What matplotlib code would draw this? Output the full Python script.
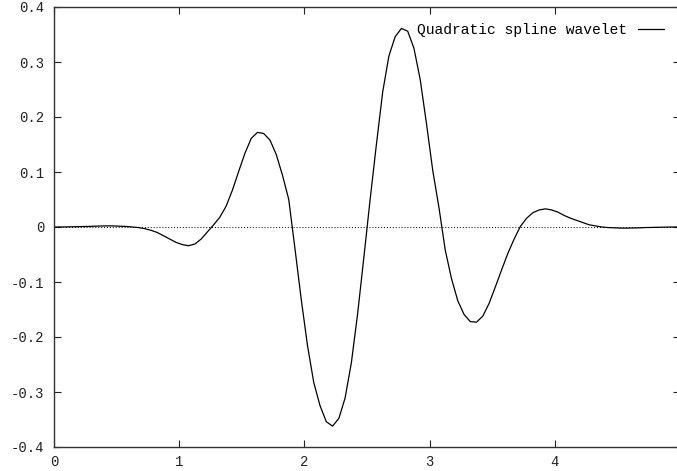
import numpy as np
import matplotlib
matplotlib.use('Agg')
import matplotlib.pyplot as plt

# Dados (amostras a cada 0.05, deslocadas de 0.025)
x_esq = np.arange(0.025, 2.5, 0.05)
psi_esq = [0.0, 0.0001, 0.0003, 0.0005, 0.0008, 0.001, 0.0015, 0.0018, 0.002, 0.002,
           0.0015, 0.001, 0.0, -0.001, -0.003, -0.006, -0.010, -0.016, -0.022, -0.028,
           -0.032, -0.034, -0.031, -0.022, -0.009, 0.004, 0.018, 0.038, 0.067, 0.101,
           0.134, 0.161, 0.172, 0.170, 0.158, 0.132, 0.094, 0.050, -0.040, -0.132,
           -0.216, -0.283, -0.325, -0.354, -0.362, -0.348, -0.311, -0.247, -0.158, -0.055]

x_dir = np.arange(2.525, 5.0, 0.05)
psi_dir = [0.050, 0.150, 0.245, 0.311, 0.346, 0.361, 0.356, 0.325, 0.268, 0.188,
           0.103, 0.035, -0.042, -0.094, -0.134, -0.159, -0.172, -0.173, -0.162, -0.139,
           -0.109, -0.078, -0.048, -0.022, 0.001, 0.016, 0.026, 0.031, 0.033, 0.031,
           0.027, 0.021, 0.016, 0.012, 0.008, 0.004, 0.002, 0.0, -0.001, -0.0015,
           -0.002, -0.002, -0.0018, -0.0015, -0.001, -0.0008, -0.0005, -0.0003, -0.0001, 0.0]

x = np.concatenate([[0.0], x_esq, x_dir, [5.0]])
psi = np.concatenate([[0.0], psi_esq, psi_dir, [0.0]])

xticks = [0, 1, 2, 3, 4, 5]
yticks = [0.4, 0.3, 0.2, 0.1, 0, -0.1, -0.2, -0.3, -0.4]
ylabels = ['0.4', '0.3', '0.2', '0.1', '0', '-0.1', '-0.2', '-0.3', '-0.4']

plt.rcParams['font.family'] = ['Liberation Mono', 'DejaVu Sans Mono']

W, H = 677, 471
fig = plt.figure(figsize=(W / 100, H / 100), dpi=100)
# eixo vai um pouco além da borda direita, como no original
ax = fig.add_axes([54 / W, 1 - 447 / H, 626 / W, 440 / H])

ax.axhline(0, color='k', lw=0.7, ls=(0, (1, 2)), zorder=1)
ax.plot(x, psi, color='k', lw=0.9, label='Quadratic spline wavelet', zorder=2)

ax.set_xlim(0, 5)
ax.set_ylim(-0.4, 0.4)
ax.set_xticks(xticks)
ax.set_xticklabels([str(t) for t in xticks])
ax.set_yticks(yticks)
ax.set_yticklabels(ylabels)
ax.tick_params(direction='in', length=5, width=0.8, top=True, right=True,
               labelsize=10, colors='#222222')
ax.tick_params(axis='x', pad=6)
ax.tick_params(axis='y', pad=7)
for s in ax.spines.values():
    s.set_linewidth(1.0)
    s.set_color('#333333')

ax.legend(loc='upper right', frameon=False, markerfirst=False, fontsize=10.5,
          handlelength=1.8, handletextpad=0.7, borderpad=0.3, borderaxespad=0.8)

fig.savefig('out.png', dpi=100)
